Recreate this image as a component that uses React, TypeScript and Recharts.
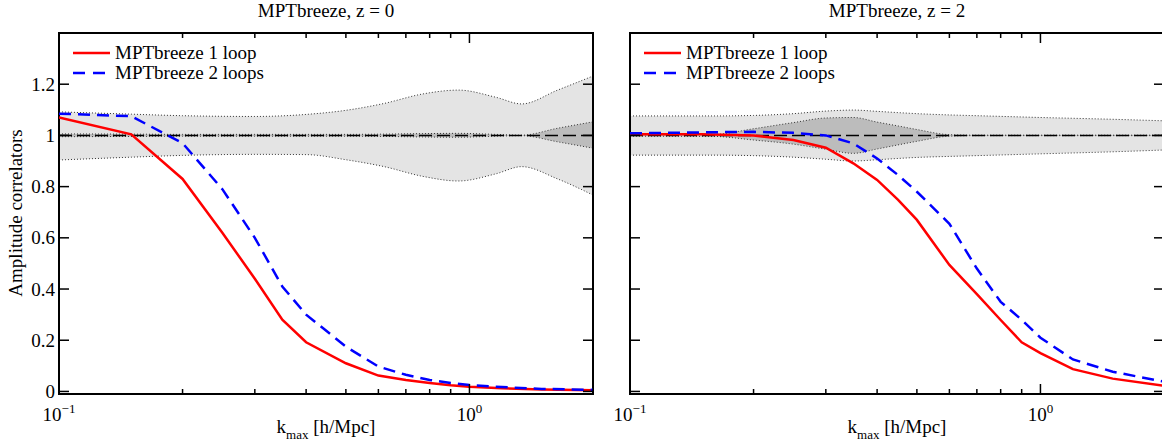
import React from "react";
import { Area, ComposedChart, Legend, Line, ReferenceArea, ReferenceLine, XAxis, YAxis } from "recharts";

const FONT = '"Liberation Serif", "Times New Roman", serif';

// k_max [h/Mpc] sampling of the two PT predictions
const kZ0 = [0.1, 0.15, 0.2, 0.25, 0.3, 0.35, 0.4, 0.5, 0.6, 0.7, 0.8, 0.9, 1.0, 1.2, 1.5, 2.0];
const oneLoopZ0 = [1.07, 1.004, 0.83, 0.62, 0.44, 0.28, 0.192, 0.11, 0.062, 0.045, 0.033, 0.024, 0.018, 0.012, 0.008, 0.005];
const twoLoopZ0 = [1.085, 1.075, 0.97, 0.79, 0.6, 0.41, 0.3, 0.175, 0.097, 0.065, 0.045, 0.033, 0.025, 0.017, 0.01, 0.006];

const kZ2 = [0.1, 0.15, 0.2, 0.25, 0.3, 0.35, 0.4, 0.45, 0.5, 0.6, 0.7, 0.8, 0.9, 1.0, 1.2, 1.5, 2.0];
const oneLoopZ2 = [1.005, 1.005, 1.0, 0.982, 0.952, 0.891, 0.826, 0.748, 0.67, 0.494, 0.38, 0.279, 0.192, 0.15, 0.087, 0.05, 0.022];
const twoLoopZ2 = [1.008, 1.012, 1.014, 1.01, 1.0, 0.969, 0.91, 0.845, 0.78, 0.655, 0.48, 0.35, 0.28, 0.21, 0.125, 0.077, 0.038];

// error bands (light = outer, dark = inner)
const kBandZ0 = [0.1, 0.15, 0.2, 0.3, 0.4, 0.5, 0.62, 0.77, 0.94, 1.16, 1.34, 1.64, 2.0];
const outerHiZ0 = [1.092, 1.083, 1.077, 1.074, 1.082, 1.098, 1.125, 1.162, 1.177, 1.149, 1.123, 1.177, 1.232];
const outerLoZ0 = [0.904, 0.915, 0.922, 0.926, 0.925, 0.905, 0.878, 0.84, 0.822, 0.85, 0.878, 0.83, 0.767];
const innerHiZ0 = [1.006, 1.005, 1.004, 1.004, 1.004, 1.004, 1.005, 1.007, 1.008, 1.004, 1.001, 1.028, 1.053];
const innerLoZ0 = [0.995, 0.996, 0.997, 0.997, 0.997, 0.997, 0.996, 0.994, 0.993, 0.997, 0.999, 0.975, 0.95];

const kBandZ2 = [0.1, 0.16, 0.2, 0.25, 0.3, 0.35, 0.4, 0.45, 0.5, 0.6, 0.7, 1.0, 1.5, 2.0];
const outerHiZ2 = [1.076, 1.076, 1.078, 1.085, 1.095, 1.099, 1.094, 1.089, 1.085, 1.08, 1.077, 1.07, 1.063, 1.057];
const outerLoZ2 = [0.923, 0.923, 0.921, 0.915, 0.907, 0.9, 0.905, 0.91, 0.914, 0.918, 0.921, 0.928, 0.936, 0.943];
const innerHiZ2 = [1.003, 1.004, 1.026, 1.05, 1.068, 1.07, 1.052, 1.037, 1.023, 1.003, 1.001, 1.001, 1.001, 1.001];
const innerLoZ2 = [0.997, 0.996, 0.982, 0.966, 0.946, 0.93, 0.947, 0.963, 0.977, 0.997, 0.999, 0.999, 0.999, 0.999];

const xTicks = [0.1, 0.2, 0.3, 0.4, 0.5, 0.6, 0.7, 0.8, 0.9, 1, 2];
const yTicks = [0, 0.2, 0.4, 0.6, 0.8, 1, 1.2];
const seriesNames = ["MPTbreeze 1 loop", "MPTbreeze 2 loops"];

const PLOT_TOP = 33;
const PLOT_BOTTOM = 394;
const PLOT_W = 534;

function makeYTick(left: number, right: number, showLabel: boolean) {
  return (props: any) => {
    const { y, payload } = props;
    return (
      <g>
        <line x1={left} x2={left + 10} y1={y} y2={y} stroke="#000" strokeWidth={1.5} />
        <line x1={right - 10} x2={right} y1={y} y2={y} stroke="#000" strokeWidth={1.5} />
        {showLabel && (
          <text x={left - 4} y={y} dy="0.35em" textAnchor="end" fontFamily={FONT} fontSize={19} fill="#000">
            {String(payload.value)}
          </text>
        )}
      </g>
    );
  };
}

function makeXTick() {
  return (props: any) => {
    const { x, payload } = props;
    const v = payload.value;
    const major = v === 0.1 || v === 1;
    const len = major ? 10 : 5;
    return (
      <g>
        <line x1={x} x2={x} y1={PLOT_BOTTOM} y2={PLOT_BOTTOM - len} stroke="#000" strokeWidth={1.5} />
        <line x1={x} x2={x} y1={PLOT_TOP} y2={PLOT_TOP + len} stroke="#000" strokeWidth={1.5} />
        {major && (
          <text x={x} y={PLOT_BOTTOM + 27} textAnchor="middle" fontFamily={FONT} fontSize={19} fill="#000">
            10
            <tspan dy={-8} fontSize={13}>
              {v === 1 ? "0" : "\u22121"}
            </tspan>
          </text>
        )}
      </g>
    );
  };
}

function LegendBox() {
  return (
    <div style={{ fontFamily: FONT, fontSize: 19, lineHeight: "20px", color: "#000" }}>
      <div style={{ display: "flex", alignItems: "center", height: 20 }}>
        <svg width={40} height={10}>
          <line x1={1} x2={38} y1={5} y2={5} stroke="#ff0000" strokeWidth={2.5} />
        </svg>
        <span style={{ marginLeft: 3, whiteSpace: "nowrap" }}>{seriesNames[0]}</span>
      </div>
      <div style={{ display: "flex", alignItems: "center", height: 20 }}>
        <svg width={40} height={10}>
          <line x1={1} x2={38} y1={5} y2={5} stroke="#0000ff" strokeWidth={2.5} strokeDasharray="12 8" />
        </svg>
        <span style={{ marginLeft: 3, whiteSpace: "nowrap" }}>{seriesNames[1]}</span>
      </div>
    </div>
  );
}

interface PanelProps {
  offset: number;
  width: number;
  axisWidth: number;
  marginLeft: number;
  title: string;
  k: number[];
  one: number[];
  two: number[];
  kBand: number[];
  outerHi: number[];
  outerLo: number[];
  innerHi: number[];
  innerLo: number[];
  showYLabels: boolean;
}

function Panel(p: PanelProps) {
  const plotLeft = p.marginLeft + p.axisWidth;
  const plotRight = plotLeft + PLOT_W;
  const oneRows = p.k.map((k, i) => ({ k, v: p.one[i] }));
  const twoRows = p.k.map((k, i) => ({ k, v: p.two[i] }));
  const bandRows = p.kBand.map((k, i) => ({
    k,
    outer: [p.outerLo[i], p.outerHi[i]],
    inner: [p.innerLo[i], p.innerHi[i]],
  }));

  return (
    <div style={{ position: "absolute", left: p.offset, top: 0, width: p.width, height: 444 }}>
      <div
        style={{
          position: "absolute",
          left: plotLeft + PLOT_W / 2 - 150,
          width: 300,
          top: 0,
          textAlign: "center",
          fontFamily: FONT,
          fontSize: 19,
          lineHeight: "22px",
        }}
      >
        {p.title}
      </div>
      <div
        style={{
          position: "absolute",
          left: plotLeft + PLOT_W / 2 - 150,
          width: 300,
          top: 416,
          textAlign: "center",
          fontFamily: FONT,
          fontSize: 19,
          lineHeight: "22px",
          whiteSpace: "nowrap",
        }}
      >
        k<span style={{ fontSize: 13, position: "relative", top: 6 }}>max</span> [h/Mpc]
      </div>
      <ComposedChart
        width={p.width}
        height={444}
        margin={{ top: PLOT_TOP, right: p.width - plotRight, left: p.marginLeft, bottom: 0 }}
      >
        <XAxis
          dataKey="k"
          type="number"
          scale="log"
          domain={[0.1, 2]}
          allowDataOverflow
          ticks={xTicks}
          interval={0}
          height={50}
          axisLine={false}
          tickLine={false}
          tick={makeXTick()}
        />
        <YAxis
          type="number"
          domain={[-0.01, 1.4]}
          allowDataOverflow
          ticks={yTicks}
          interval={0}
          width={p.axisWidth}
          axisLine={false}
          tickLine={false}
          tick={makeYTick(plotLeft, plotRight, p.showYLabels)}
        />
        <Area
          data={bandRows}
          dataKey="outer"
          type="monotone"
          fill="#e4e4e4"
          fillOpacity={1}
          stroke="#333"
          strokeWidth={1}
          strokeDasharray="1 2"
          isAnimationActive={false}
          dot={false}
          activeDot={false}
        />
        <Area
          data={bandRows}
          dataKey="inner"
          type="monotone"
          fill="#bcbcbc"
          fillOpacity={1}
          stroke="#333"
          strokeWidth={1}
          strokeDasharray="1 2"
          isAnimationActive={false}
          dot={false}
          activeDot={false}
        />
        <ReferenceLine y={1} stroke="#000" strokeWidth={1.5} strokeDasharray="13 5" />
        <Line
          data={oneRows}
          dataKey="v"
          name={seriesNames[0]}
          type="linear"
          stroke="#ff0000"
          strokeWidth={2.5}
          dot={false}
          isAnimationActive={false}
        />
        <Line
          data={twoRows}
          dataKey="v"
          name={seriesNames[1]}
          type="linear"
          stroke="#0000ff"
          strokeWidth={2.5}
          strokeDasharray="12 7"
          dot={false}
          isAnimationActive={false}
        />
        <ReferenceArea x1={0.1} x2={2} y1={-0.01} y2={1.4} fill="none" stroke="#000" strokeWidth={2} />
        <Legend
          layout="horizontal"
          verticalAlign="middle"
          align="center"
          content={() => <LegendBox />}
          wrapperStyle={{ position: "absolute", left: plotLeft + 13, top: 43, width: 260, bottom: "auto" }}
        />
      </ComposedChart>
    </div>
  );
}

export default function App() {
  return (
    <div
      style={{
        position: "absolute",
        left: 0,
        top: 0,
        width: 1162,
        height: 444,
        overflow: "hidden",
        background: "#fff",
        fontFamily: FONT,
      }}
    >
      <div
        style={{
          position: "absolute",
          left: 16,
          top: 213,
          transform: "translate(-50%, -50%) rotate(-90deg)",
          whiteSpace: "nowrap",
          fontSize: 19,
          lineHeight: "22px",
        }}
      >
        Amplitude correlators
      </div>
      <Panel
        offset={0}
        width={600}
        axisWidth={50}
        marginLeft={9}
        title="MPTbreeze, z = 0"
        k={kZ0}
        one={oneLoopZ0}
        two={twoLoopZ0}
        kBand={kBandZ0}
        outerHi={outerHiZ0}
        outerLo={outerLoZ0}
        innerHi={innerHiZ0}
        innerLo={innerLoZ0}
        showYLabels={true}
      />
      <Panel
        offset={600}
        width={570}
        axisWidth={20}
        marginLeft={10}
        title="MPTbreeze, z = 2"
        k={kZ2}
        one={oneLoopZ2}
        two={twoLoopZ2}
        kBand={kBandZ2}
        outerHi={outerHiZ2}
        outerLo={outerLoZ2}
        innerHi={innerHiZ2}
        innerLo={innerLoZ2}
        showYLabels={false}
      />
    </div>
  );
}
